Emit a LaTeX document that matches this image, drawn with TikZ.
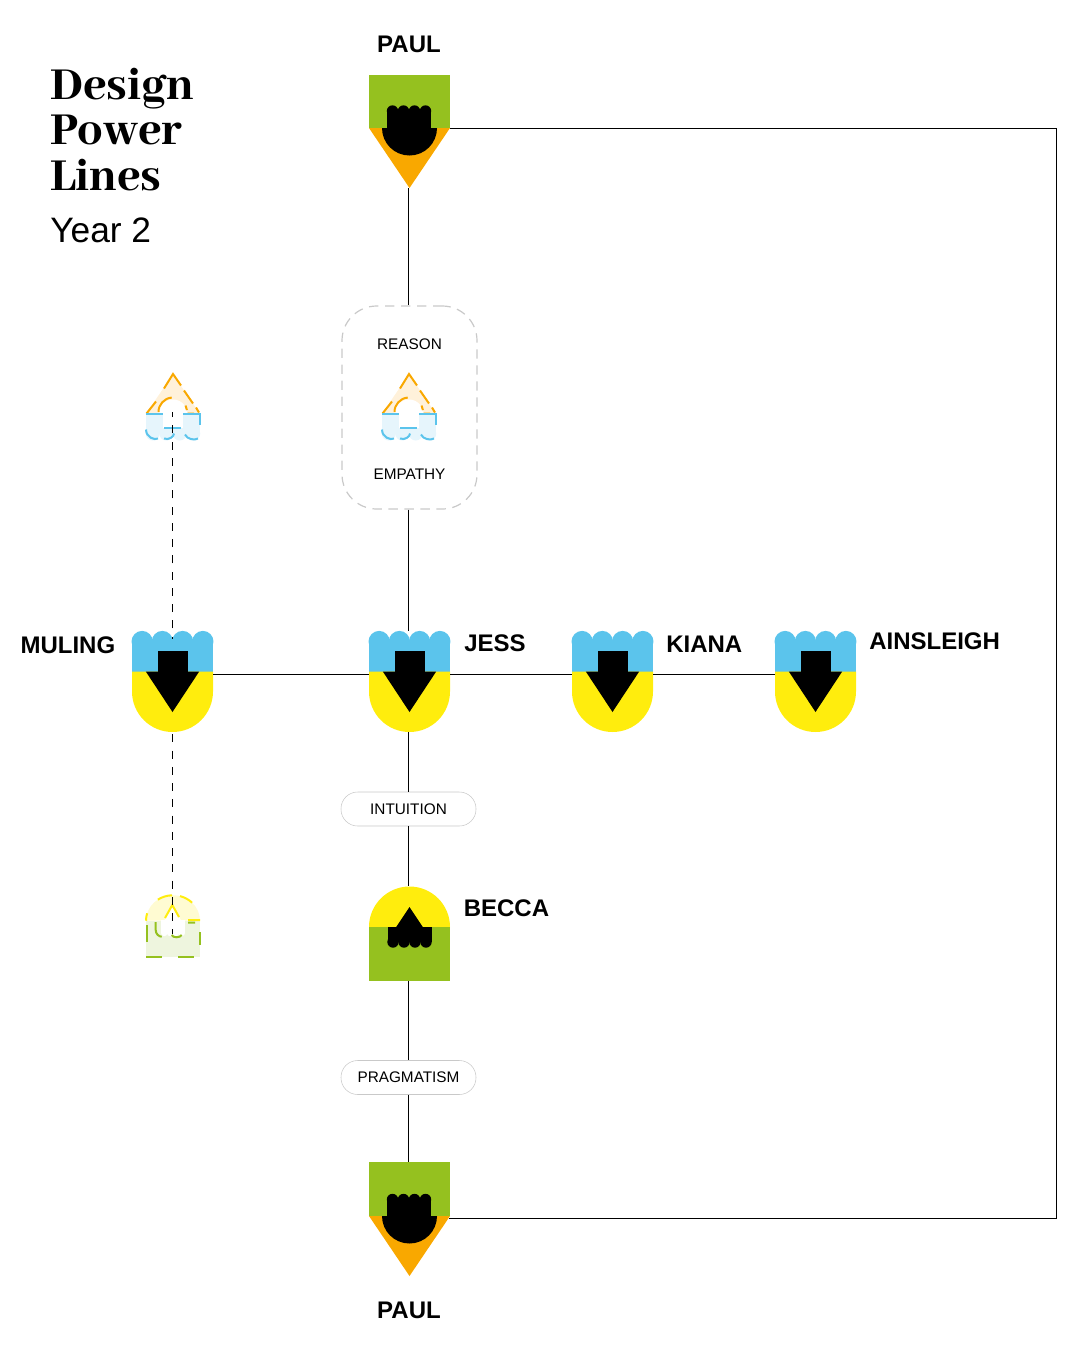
\documentclass[tikz,border=0pt]{standalone}
\usepackage{fontspec}
\setmainfont{Liberation Sans}
\newfontfamily\titlefont{Abhaya Libre ExtraBold}
\usetikzlibrary{positioning}
\definecolor{leaf}{HTML}{95C11F}
\definecolor{amber}{HTML}{F9A800}
\definecolor{sky}{HTML}{5BC4EC}
\definecolor{lemon}{HTML}{FFED0D}
\definecolor{paleamber}{HTML}{FFF1DA}
\definecolor{palesky}{HTML}{E6F5FC}
\definecolor{palelemon}{HTML}{FFFBD2}
\definecolor{paleleaf}{HTML}{EEF5DE}
\definecolor{pillgray}{HTML}{C9C9C9}
\tikzset{
  glyphbox/.style={inner sep=0pt,outer sep=0pt,minimum width=60.75pt,minimum height=#1},
  ghostbox/.style={inner sep=0pt,outer sep=0pt,minimum width=40.5pt,minimum height=#1},
  namelabel/.style={inner sep=0.75pt,font=\fontsize{18}{20}\selectfont\bfseries},
  pilllabel/.style={draw=pillgray,fill=white,rounded corners=12.5pt,inner sep=0pt,minimum width=101.25pt,minimum height=25.5pt,font=\fontsize{11.5}{14}\selectfont},
  wordlabel/.style={inner sep=0.75pt,font=\fontsize{11.5}{14}\selectfont},
  powerline/.style={line width=0.75pt},
  ghostline/.style={line width=1.5pt},
}
% scallop row: colour, left, bump width, y, radius
\newcommand{\scallops}[5]{
  \foreach \i in {0,1,2,3} {
    \fill [#1] ({#2+(\i+0.5)*#3},#4) circle (#5);
  }
}
% amber point, black bowl and fist under the leaf square
\newcommand{\drawpencil}[3]{
  \begin{scope}[shift={(#1,#2)}]
    \fill [amber] (-40.5,0) -- (40.5,0) -- (0,60) -- cycle;
    \fill [black] (-27.5,0) arc (180:0:27.5) -- cycle;
    \fill [black] (-22.5,0.5) rectangle (21.5,#3);
    \scallops{black}{-22.5}{11}{#3}{5.7}
  \end{scope}
}
% sky crown, lemon cup, black arrow
\newcommand{\drawtulip}[2]{
  \begin{scope}[shift={(#1,#2)}]
    \fill [sky] (-40.5,-40.5) rectangle (40.5,-9.5);
    \scallops{sky}{-40.5}{20.25}{-40}{10.6}
    \fill [lemon] (-40.5,-10) -- (40.5,-10) -- (40.5,10) arc (0:180:40.5) -- cycle;
    \fill [black] (-15,-30.5) rectangle (15,-9.5);
    \fill [black] (-26.7,-10) -- (26.7,-10) -- (0,30.5) -- cycle;
  \end{scope}
}
% lemon dome over leaf block, black arrow and fist
\newcommand{\drawdome}[2]{
  \begin{scope}[shift={(#1,#2)}]
    \fill [lemon] (-40.5,-6.5) arc (180:360:40.5) -- cycle;
    \fill [leaf] (-40.5,-6.7) rectangle (40.5,47.5);
    \fill [black] (-13.3,-6.5) -- (0,-26.5) -- (13.3,-6.5) -- cycle;
    \fill [black] (-22,-6.7) rectangle (22,8.5);
    \scallops{black}{-22}{11}{8.5}{5.7}
  \end{scope}
}
% faded glyph with point on top and scallops below
\newcommand{\drawghostreason}[2]{
  \begin{scope}[shift={(#1,#2)}]
    \fill [paleamber] (-27,6.5) -- (0,-33.5) -- (27,6.5) -- cycle;
    \fill [palesky] (-27,6.5) rectangle (27,26);
    \scallops{palesky}{-27}{13.5}{26}{7}
    \fill [white] (-14.5,6.5) arc (180:360:14.5) -- cycle;
    \fill [white] (-10,6) rectangle (9.5,20.5);
    \draw [amber,ghostline] (-26.5,6) -- (-17,-6) (-9,-19) -- (0,-33.5) -- (8,-22) (11,-17) -- (20,-4) (23,0) -- (26,5);
    \draw [amber,ghostline] (-14.5,4.5) arc (180:265:14.5) (12.5,-2) arc (-35:0:8) (14.5,6) -- (21,6);
    \draw [sky,ghostline] (-27,6.5) -- (-10.5,6.5) (10,6.5) -- (27,6.5) -- (27,17);
    \draw [sky,ghostline] (-9,20.5) -- (8,20.5);
    \draw [sky,ghostline] (-27,22) .. controls (-27,30) and (-18,33) .. (-15,31) (-9,31) .. controls (-4,33) and (1,29) .. (1,26) (12,27) .. controls (14,32) and (22,33) .. (25,31);
  \end{scope}
}
% faded glyph with dome on top and block below
\newcommand{\drawghostdome}[2]{
  \begin{scope}[shift={(#1,#2)}]
    \fill [palelemon] (-27,-5.3) arc (180:360:27 and 25.5) -- cycle;
    \fill [paleleaf] (-27,-5.3) rectangle (27,31);
    \fill [white] (-8.8,-5.3) -- (-0.5,-21) -- (8.2,-5.3) -- cycle;
    \fill [white] (-11.7,-6) rectangle (11.7,7);
    \scallops{white}{-11.7}{5.85}{7}{3.2}
    \draw [lemon,ghostline] (-27,-5.3) arc (180:197:27 and 25.5) (-15.1,-26.4) arc (236:268:27 and 25.5) (7,-29.9) arc (285:315:27 and 25.5);
    \draw [lemon,ghostline] (-8,-8) -- (-0.7,-21) -- (6,-9) (15,-6) -- (27,-6);
    \draw [leaf,ghostline] (-26.5,-1) -- (-26.5,16) (26.5,6) -- (26.5,19) (-27,30.5) -- (-11,30.5) (5,30.5) -- (21,30.5);
    \draw [leaf,ghostline] (-17.3,-4) -- (-17.3,4) .. controls (-17.3,8) and (-14,10.7) .. (-11.3,10.7) (-1.3,9) .. controls (0,12) and (7,12) .. (8.7,9) (15,-3.3) -- (22,-3.3);
  \end{scope}
}
\begin{document}
\begin{tikzpicture}[x=0.75pt,y=0.75pt,yscale=-1,xscale=1]
\useasboundingbox (0,0) rectangle (1080,1350);

%Shape: Pencil top
\node [glyphbox=39.75pt,fill=leaf] (paulhead) at (409.5,101.5) {};
\drawpencil{409.5}{128}{-17}
\coordinate (paultip) at (408.5,188);

%Shape: Pencil bottom
\node [glyphbox=40.5pt,fill=leaf] (paulfoot) at (409.5,1189) {};
\drawpencil{409.5}{1216}{-16.5}
\coordinate (paulbend) at (448.5,1218);

%Shape: Tulips
\node [glyphbox=75.75pt] (muling) at (172.5,681.5) {};
\drawtulip{172.5}{681.5}
\node [glyphbox=75.75pt] (jess) at (409.5,681.5) {};
\drawtulip{409.5}{681.5}
\node [glyphbox=75.75pt] (kiana) at (612.5,681.5) {};
\drawtulip{612.5}{681.5}
\node [glyphbox=75.75pt] (ainsleigh) at (815.5,681.5) {};
\drawtulip{815.5}{681.5}
\coordinate (mulingvalley) at (172.7,639);

%Shape: Dome
\node [glyphbox=71.25pt] (becca) at (409.5,933.5) {};
\drawdome{409.5}{933.5}

%Shape: Dashed frame
\node [draw=pillgray,line width=0.9pt,dash pattern=on 7pt off 5pt,rounded corners=26pt,inner sep=0pt,minimum width=101.25pt,minimum height=152.25pt] (reasonbox) at (409.5,407.5) {};
\node [wordlabel] (reason) at (409.5,344) {REASON};
\node [wordlabel] (empathy) at (409.5,474.5) {EMPATHY};
\node [ghostbox=50pt] (ghostmid) at (409,407.5) {};
\drawghostreason{409}{407.5}

%Shape: Ghosts
\node [ghostbox=50pt] (ghostup) at (173,407.5) {};
\drawghostreason{173}{407.5}
\coordinate (ghostupend) at (172.7,412);
\node [ghostbox=46.5pt] (ghostdown) at (173,926) {};
\drawghostdome{173}{926}
\coordinate (ghostdownend) at (172.7,934);

%Pills
\node [pilllabel] (intuition) at (408.5,809) {INTUITION};
\node [pilllabel] (pragmatism) at (408.5,1077.5) {PRAGMATISM};

%Straight Lines
\draw [powerline] (paultip) -- (paultip |- reasonbox.north);
\draw [powerline] (paultip |- reasonbox.south) -- (paultip |- jess.north);
\draw [powerline] (paultip |- jess.south) -- (paultip |- intuition.north);
\draw [powerline] (paultip |- intuition.south) -- (paultip |- becca.north);
\draw [powerline] (paultip |- becca.south) -- (paultip |- pragmatism.north);
\draw [powerline] (paultip |- pragmatism.south) -- (paultip |- paulfoot.north);
\draw [powerline] ([yshift=-5.6pt]muling.east) -- ([yshift=-5.6pt]jess.west);
\draw [powerline] ([yshift=-5.6pt]jess.east) -- ([yshift=-5.6pt]kiana.west);
\draw [powerline] ([yshift=-5.6pt]kiana.east) -- ([yshift=-5.6pt]ainsleigh.west);
\draw [powerline] (paulhead.south east) -- (1056,128) -- (1056,1218) -- (paulbend);
\draw [powerline,dash pattern=on 6pt off 6.2pt,dash phase=4.3pt] (mulingvalley) -- (ghostupend);
\draw [powerline,dash pattern=on 6pt off 6.2pt,dash phase=10.5pt] (muling.south -| mulingvalley) -- (ghostdownend);

% Text Node
\node [anchor=base west,inner sep=0pt,align=left,font=\titlefont\fontsize{37.8}{34}\selectfont] (title) at (50,190) {Design\\Power\\Lines};
\node [anchor=base west,inner sep=0pt,font=\fontsize{26.5}{28}\selectfont] (year) at (50,242) {Year 2};
\node [namelabel] (paultop) at (409,44) {PAUL};
\node [namelabel] (paulbottom) at (409,1310) {PAUL};
\node [namelabel,anchor=east] (mulingname) at (116.5,645) {MULING};
\node [namelabel,anchor=west] (jessname) at (463,643) {JESS};
\node [namelabel,anchor=west] (kiananame) at (665,644) {KIANA};
\node [namelabel,anchor=west] (ainsleighname) at (868,641) {AINSLEIGH};
\node [namelabel,anchor=west] (beccaname) at (462.5,908) {BECCA};

\end{tikzpicture}
\end{document}
